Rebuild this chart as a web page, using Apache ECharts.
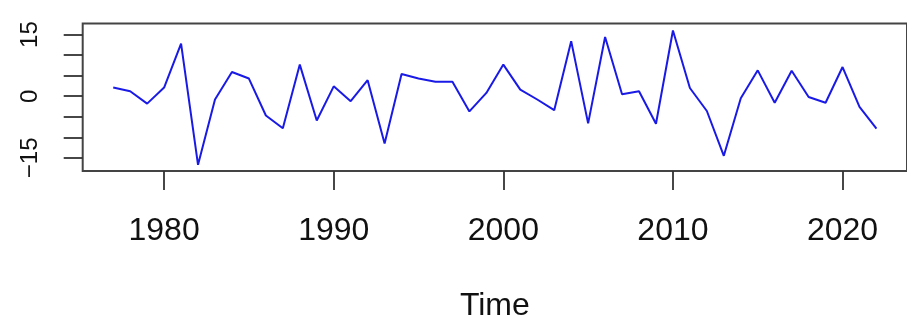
<!DOCTYPE html>
<html>
<head>
<meta charset="utf-8">
<script src="https://cdn.jsdelivr.net/npm/echarts@6/dist/echarts.min.js"></script>
<style>
html,body{margin:0;padding:0;background:#fff;}
#c{width:907px;height:323px;}
</style>
</head>
<body>
<div id="c"></div>
<script>
const years = [1977,1978,1979,1980,1981,1982,1983,1984,1985,1986,1987,1988,1989,1990,1991,1992,1993,1994,1995,1996,1997,1998,1999,2000,2001,2002,2003,2004,2005,2006,2007,2008,2009,2010,2011,2012,2013,2014,2015,2016,2017,2018,2019,2020,2021,2022];
const values = [2.1,1.2,-1.8,2.1,12.8,-16.7,-0.8,5.9,4.3,-4.7,-7.8,7.7,-5.9,2.4,-1.2,3.9,-11.5,5.4,4.3,3.5,3.5,-3.7,0.8,7.7,1.6,-0.8,-3.4,13.4,-6.6,14.4,0.5,1.2,-6.7,16.0,2.0,-3.6,-14.5,-0.5,6.3,-1.6,6.2,-0.2,-1.6,7.1,-2.6,-7.9];
const xTicks = [1980,1990,2000,2010,2020];
const yTicks = [-15,-10,-5,0,5,10,15];
const yLabels = [-15,0,15];

const FONT = '"Liberation Sans", Arial, sans-serif';
const chart = echarts.init(document.getElementById('c'), null, {renderer: 'canvas'});
chart.setOption({
  animation: false,
  backgroundColor: '#ffffff',
  grid: {
    left: 82.7, top: 23.5, right: -12.7, bottom: 148,
    show: true, borderColor: '#444', borderWidth: 2, backgroundColor: 'transparent'
  },
  xAxis: {
    type: 'value', min: 1975.2, max: 2023.8,
    name: 'Time', nameLocation: 'middle', nameGap: 119,
    nameTextStyle: {fontFamily: FONT, fontSize: 32, color: '#111'},
    axisLine: {show: false, onZero: false},
    splitLine: {show: false},
    axisTick: {show: true, inside: false, length: 19, customValues: xTicks, lineStyle: {color: '#333', width: 1.8}},
    axisLabel: {show: true, customValues: xTicks, margin: 44, fontFamily: FONT, fontSize: 32, color: '#111',
      formatter: v => String(v)}
  },
  yAxis: {
    type: 'value', min: -18.2, max: 17.7,
    axisLine: {show: false, onZero: false},
    splitLine: {show: false},
    axisTick: {show: true, inside: false, length: 19, customValues: yTicks, lineStyle: {color: '#333', width: 1.8}},
    axisLabel: {show: true, customValues: yLabels, rotate: 90, margin: 40, fontFamily: FONT, fontSize: 24, color: '#111',
      formatter: v => (v < 0 ? '\u2212' + Math.abs(v) : String(v))}
  },
  series: [{
    type: 'line',
    data: years.map((y, i) => [y, values[i]]),
    showSymbol: false,
    symbol: 'none',
    lineStyle: {color: '#1a1ae6', width: 2},
    clip: true
  }]
});
</script>
</body>
</html>
